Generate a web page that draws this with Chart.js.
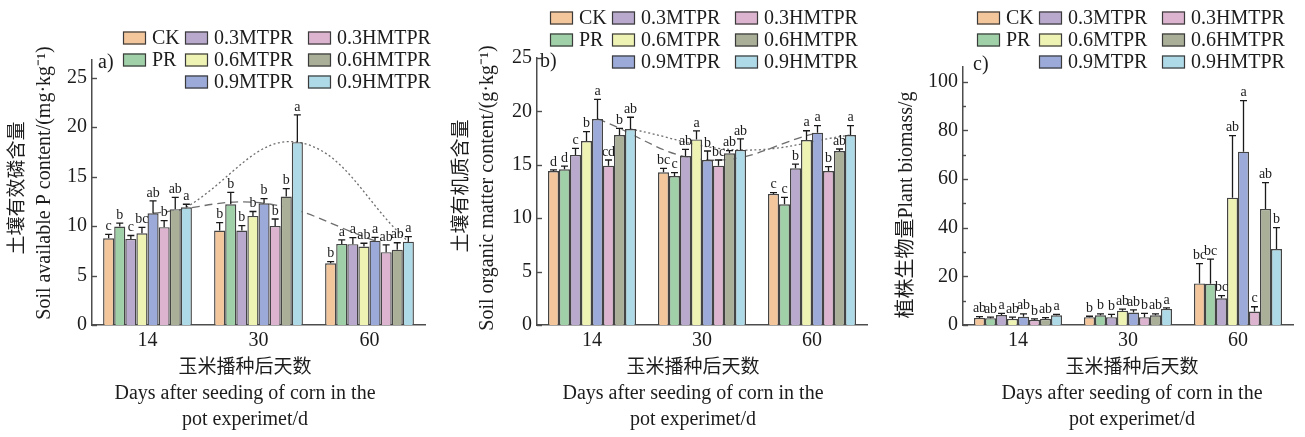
<!DOCTYPE html>
<html>
<head>
<meta charset="utf-8">
<script src="https://cdn.jsdelivr.net/npm/chart.js@4.4.1/dist/chart.umd.min.js"></script>
<style>
  html, body { margin: 0; padding: 0; background: #fff; }
  #wrap { position: relative; width: 1305px; height: 437px; overflow: hidden; }
  canvas { position: absolute; top: 0; }
</style>
</head>
<body>
<div id="wrap">
  <canvas id="chP" width="440" height="437" style="left:0"></canvas>
  <canvas id="chSom" width="440" height="437" style="left:440px"></canvas>
  <canvas id="chBio" width="425" height="437" style="left:880px"></canvas>
</div>
<script>
const days = ['14', '30', '60'];
const treatments = ['CK', 'PR', '0.3MTPR', '0.6MTPR', '0.9MTPR', '0.3HMTPR', '0.6HMTPR', '0.9HMTPR'];
const barColors = ['#F3C69C', '#9FD0A7', '#B8A9CD', '#EEF2B2', '#9CAAD9', '#DDB4D0', '#AAB098', '#AED9E7'];

// a) soil available P (mg/kg); one row per treatment, columns = days 14/30/60
const availP = [
  [8.77, 9.55, 6.24], [9.95, 12.21, 8.20], [8.70, 9.55, 8.17], [9.28, 11.03, 7.93],
  [11.30, 12.31, 8.53], [9.89, 10.02, 7.36], [11.71, 12.99, 7.62], [11.91, 18.49, 8.43]
];
const availPErr = [
  [0.40, 0.80, 0.17], [0.35, 1.20, 0.40], [0.35, 0.50, 0.67], [0.60, 0.45, 0.34],
  [1.25, 0.47, 0.34], [0.67, 0.70, 0.74], [1.20, 0.80, 0.70], [0.30, 2.76, 0.50]
];
const availPSig = [
  ['c', 'b', 'b'], ['b', 'b', 'a'], ['c', 'b', 'a'], ['bc', 'b', 'ab'],
  ['ab', 'b', 'a'], ['b', 'b', 'ab'], ['ab', 'b', 'ab'], ['a', 'a', 'a']
];
const availPTicks = [0, 5, 10, 15, 20, 25];

// b) soil organic matter (g/kg)
const som = [
  [14.42, 14.30, 12.27], [14.58, 13.95, 11.30], [15.92, 15.82, 14.67], [17.23, 17.38, 17.32],
  [19.29, 15.45, 18.01], [14.92, 14.92, 14.42], [17.79, 16.07, 16.29], [18.35, 16.39, 17.79]
];
const somErr = [
  [0.10, 0.37, 0.12], [0.30, 0.31, 0.65], [0.62, 0.62, 0.40], [0.87, 0.80, 0.87],
  [1.84, 0.84, 0.65], [0.53, 0.53, 0.40], [0.62, 0.25, 0.19], [1.10, 1.03, 0.87]
];
const somSig = [
  ['d', 'bc', 'c'], ['d', 'c', 'c'], ['c', 'ab', 'b'], ['b', 'a', 'a'],
  ['a', 'b', 'a'], ['cd', 'bc', 'b'], ['b', 'ab', 'ab'], ['ab', 'ab', 'a']
];
const somTicks = [0, 5, 10, 15, 20, 25];

// c) plant biomass (g)
const biomass = [
  [2.9, 3.2, 17.1], [2.8, 4.0, 16.9], [4.1, 3.2, 11.0], [2.5, 5.9, 52.3],
  [3.4, 5.1, 71.2], [2.1, 3.2, 5.5], [2.5, 4.0, 47.7], [4.0, 6.6, 31.2]
];
const biomassErr = [
  [0.5, 0.4, 8.1], [0.4, 0.6, 10.2], [0.7, 1.2, 1.1], [0.7, 0.6, 25.5],
  [1.2, 1.1, 21.0], [0.4, 1.6, 2.0], [0.5, 0.6, 10.8], [0.4, 0.4, 8.8]
];
const biomassSig = [
  ['ab', 'b', 'bc'], ['ab', 'b', 'bc'], ['a', 'b', 'bc'], ['ab', 'ab', 'ab'],
  ['ab', 'ab', 'a'], ['b', 'b', 'c'], ['ab', 'ab', 'ab'], ['a', 'a', 'b']
];
const biomassTicks = [0, 20, 40, 60, 80, 100];
const biomassMinorTicks = [10, 30, 50, 70, 90];

const xTitle = ['玉米播种后天数', 'Days after seeding of corn in the', 'pot experimet/d'];

const SERIF = "'Liberation Serif', 'Times New Roman', serif";
const CJK = "'Liberation Serif', 'Noto Sans CJK SC', serif";
const TXT = '#1c1c1c', AXIS = '#4d4d4d';
// legend slots (column, row) in the order of treatments
const legendSlots = [[0, 0], [0, 1], [1, 0], [1, 1], [1, 2], [2, 0], [2, 1], [2, 2]];
const legendColX = [0, 62, 185];

// centre of bar k inside its day group, in x-axis units (groups take 0.8 of a slot)
function slotOffset(k){ return 0.8 * ((k + 0.5) / treatments.length - 0.5); }

const decor = {
  id: 'decor',
  afterDraw(chart, args, o){
    const ctx = chart.ctx, ca = chart.chartArea, ys = chart.scales.y;
    ctx.save();
    // inward ticks
    ctx.strokeStyle = AXIS; ctx.lineWidth = 1.4;
    o.ticks.forEach(v => { const y = Math.round(ys.getPixelForValue(v)) + 0.5; ctx.beginPath(); ctx.moveTo(ca.left, y); ctx.lineTo(ca.left + 5, y); ctx.stroke(); });
    (o.minor || []).forEach(v => { const y = Math.round(ys.getPixelForValue(v)) + 0.5; ctx.beginPath(); ctx.moveTo(ca.left, y); ctx.lineTo(ca.left + 3, y); ctx.stroke(); });

    // error bars + significance letters
    ctx.strokeStyle = '#1a1a1a'; ctx.fillStyle = TXT; ctx.lineWidth = 1.3;
    ctx.font = '14px ' + SERIF; ctx.textAlign = 'center'; ctx.textBaseline = 'bottom';
    treatments.forEach((t, k) => {
      const meta = chart.getDatasetMeta(k);
      meta.data.forEach((bar, j) => {
        const top = ys.getPixelForValue(o.values[k][j] + o.errs[k][j]);
        ctx.beginPath(); ctx.moveTo(bar.x, bar.y); ctx.lineTo(bar.x, top);
        ctx.moveTo(bar.x - 3.5, top); ctx.lineTo(bar.x + 3.5, top); ctx.stroke();
        ctx.fillText(o.sig[k][j], bar.x, top - 1);
      });
    });

    // legend
    ctx.font = '20px ' + SERIF; ctx.textAlign = 'left'; ctx.textBaseline = 'middle';
    treatments.forEach((t, k) => {
      const [c, r] = legendSlots[k];
      const x = o.legend.x + legendColX[c], y = o.legend.y + r * 22;
      ctx.fillStyle = barColors[k]; ctx.fillRect(x, y - 6.5, 23, 13);
      ctx.strokeStyle = '#3a3a3a'; ctx.lineWidth = 1.2; ctx.strokeRect(x + 0.5, y - 6, 22, 12);
      ctx.fillStyle = TXT; ctx.fillText(t, x + 29, y + 1);
    });

    // panel tag
    ctx.fillText(o.tag.text, o.tag.x, o.tag.y);

    // axis titles
    ctx.textAlign = 'center';
    o.xTitle.lines.forEach((s, i) => {
      ctx.font = (i === 0 ? '19px ' : '20px ') + CJK;
      ctx.fillText(s, o.xTitle.cx, o.xTitle.y + i * 26);
    });
    o.yTitle.forEach(l => {
      ctx.save(); ctx.translate(l.x, l.y); ctx.rotate(-Math.PI / 2);
      ctx.font = l.size + 'px ' + CJK; ctx.fillText(l.text, 0, 0); ctx.restore();
    });
    ctx.restore();
  }
};

function makeChart(id, o){
  const datasets = treatments.map((t, k) => ({
    type: 'bar', label: t, data: o.values[k].map((v, i) => ({ x: i, y: v })),
    backgroundColor: barColors[k], borderColor: '#444', borderWidth: 1.4,
    categoryPercentage: 0.8, barPercentage: 1, order: 0
  }));
  (o.trends || []).forEach(tr => datasets.push({
    type: 'line', label: 'trend',
    data: o.values[tr.k].map((v, i) => ({ x: i + slotOffset(tr.k), y: v })),
    borderColor: '#6e6e6e', borderWidth: 1.3, borderDash: tr.dash, pointRadius: 0, tension: 0.4, order: 1
  }));
  return new Chart(document.getElementById(id), {
    type: 'bar',
    data: { datasets },
    options: {
      responsive: false, animation: false, events: [],
      layout: { padding: { top: o.top, right: o.right, left: 0, bottom: 0 } },
      plugins: { legend: { display: false }, tooltip: { enabled: false }, decor: o },
      scales: {
        x: {
          type: 'linear', min: -0.5, max: 2.5, offset: false,
          grid: { display: false, drawTicks: false }, border: { color: AXIS, width: 1.5 },
          ticks: { font: { family: SERIF, size: 20 }, color: TXT, padding: 4, callback: v => days[v] },
          afterBuildTicks: s => { s.ticks = days.map((d, i) => ({ value: i })); },
          afterFit: s => { s.height = 437 - o.bottom; }
        },
        y: {
          min: 0, max: o.yMax,
          grid: { display: false, drawTicks: false }, border: { color: AXIS, width: 1.5 },
          ticks: { font: { family: SERIF, size: 20 }, color: TXT, padding: 5 },
          afterBuildTicks: s => { s.ticks = o.ticks.map(v => ({ value: v })); },
          afterFit: s => { s.width = o.axisW; }
        }
      }
    },
    plugins: [decor]
  });
}

makeChart('chP', {
  values: availP, errs: availPErr, sig: availPSig, ticks: availPTicks,
  yMax: 26.8, top: 60, bottom: 325, right: 15, axisW: 92,
  trends: [{ k: 7, dash: [2, 2.5] }, { k: 4, dash: [8, 5] }],
  legend: { x: 123, y: 38 }, tag: { text: 'a)', x: 98, y: 63 },
  xTitle: { lines: xTitle, cx: 245, y: 368 },
  yTitle: [{ text: '土壤有效磷含量', x: 18, y: 188, size: 19 },
           { text: 'Soil available P content/(mg·kg⁻¹)', x: 45, y: 183, size: 20 }]
});

makeChart('chSom', {
  values: som, errs: somErr, sig: somSig, ticks: somTicks,
  yMax: 25, top: 58, bottom: 325, right: 13, axisW: 97,
  trends: [{ k: 7, dash: [2, 2.5] }, { k: 4, dash: [8, 5] }],
  legend: { x: 110, y: 18 }, tag: { text: 'b)', x: 100, y: 62 },
  xTitle: { lines: xTitle, cx: 253, y: 368 },
  yTitle: [{ text: '土壤有机质含量', x: 22, y: 186, size: 19 },
           { text: 'Soil organic matter content/(g·kg⁻¹)', x: 48, y: 188, size: 20 }]
});

makeChart('chBio', {
  values: biomass, errs: biomassErr, sig: biomassSig, ticks: biomassTicks, minor: biomassMinorTicks,
  yMax: 106, top: 67, bottom: 325, right: 12, axisW: 83,
  legend: { x: 97, y: 18 }, tag: { text: 'c)', x: 93, y: 65 },
  xTitle: { lines: xTitle, cx: 252, y: 368 },
  yTitle: [{ text: '植株生物量Plant biomass/g', x: 27, y: 205, size: 20 }]
});
</script>
</body>
</html>
